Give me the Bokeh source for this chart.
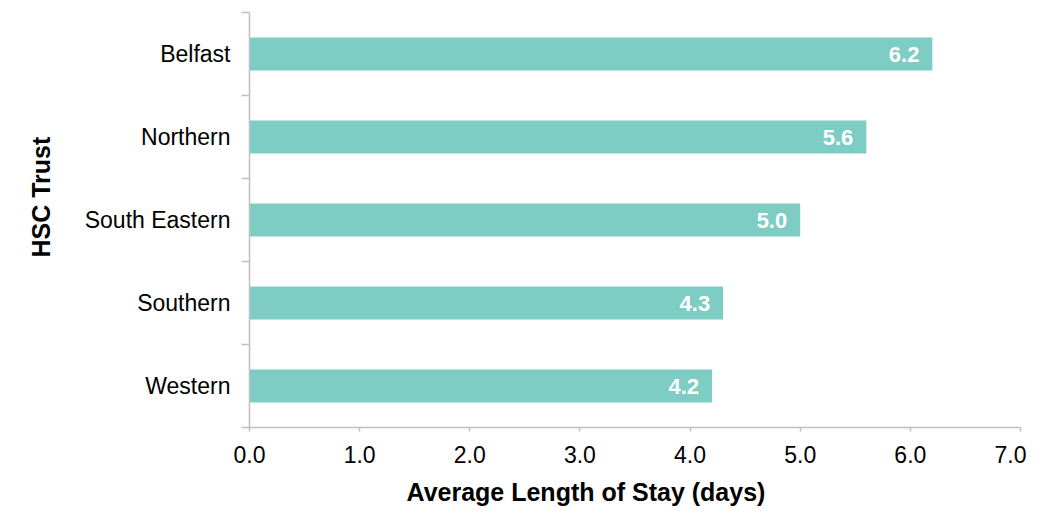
from bokeh.plotting import figure
from bokeh.models import (ColumnDataSource, FixedTicker, Range1d, Title,
                          CustomJSTickFormatter, NumeralTickFormatter)
from bokeh.embed import file_html
from bokeh.resources import INLINE
from bokeh.core.properties import value

# ---- data ----
trusts = ["Belfast", "Northern", "South Eastern", "Southern", "Western"]
avg_stay = [6.2, 5.6, 5.0, 4.3, 4.2]
x_ticks = [0, 1, 2, 3, 4, 5, 6, 7]
x_title = "Average Length of Stay (days)"
y_title = "HSC Trust"

n = len(trusts)
ypos = [n - i - 0.5 for i in range(n)]
labels = [f"{v:.1f}" for v in avg_stay]
src = ColumnDataSource(dict(y=ypos, v=avg_stay, lab=labels, name=trusts))

FONT = "Liberation Sans"
GRAY = "#bfbfbf"
BAR = "#7ecdc4"

p = figure(width=1026, height=515, output_backend="svg", toolbar_location=None,
           x_range=Range1d(0, 7), y_range=Range1d(0, n),
           min_border_left=249, min_border_right=6, min_border_top=12,
           min_border_bottom=87)
p.outline_line_color = None
p.grid.visible = False
p.background_fill_color = "white"

p.hbar(y="y", right="v", left=0, height=0.4, source=src,
       fill_color=BAR, line_color=None)
p.text(x="v", y="y", text="lab", source=src, x_offset=-13,
       text_align="right", text_baseline="middle", text_color="white",
       text_font=value(FONT), text_font_style="bold", text_font_size="22px")

# x axis
xa = p.xaxis[0]
xa.ticker = FixedTicker(ticks=x_ticks)
xa.formatter = NumeralTickFormatter(format="0.0")
xa.minor_tick_line_color = None
xa.major_tick_in = 0
xa.major_tick_out = 4
xa.axis_line_color = GRAY
xa.axis_line_width = 1.5
xa.major_tick_line_color = GRAY
xa.major_tick_line_width = 1.5
xa.major_label_text_font = FONT
xa.major_label_text_font_size = "23px"
xa.major_label_text_color = "#000000"
xa.major_label_standoff = 14

# y axis: labels at band centres, ticks at band boundaries
ya = p.yaxis[0]
ya.ticker = FixedTicker(ticks=ypos, minor_ticks=list(range(n + 1)))
ya.formatter = CustomJSTickFormatter(
    args=dict(names=trusts, n=n),
    code="return names[n - 1 - Math.floor(tick)];")
ya.major_tick_in = 0
ya.major_tick_out = 0
ya.minor_tick_in = 0
ya.minor_tick_out = 8
ya.minor_tick_line_color = GRAY
ya.minor_tick_line_width = 1.5
ya.axis_line_color = GRAY
ya.axis_line_width = 1.5
ya.major_label_text_font = FONT
ya.major_label_text_font_size = "23px"
ya.major_label_text_color = "#000000"
ya.major_label_standoff = 11

p.add_layout(Title(text=x_title, align="left", offset=157, standoff=20,
                   text_font=FONT, text_font_size="25px",
                   text_font_style="bold", text_color="#000000"), "below")
p.add_layout(Title(text=y_title, align="left", offset=170, standoff=50,
                   vertical_align="top",
                   text_font=FONT, text_font_size="25px",
                   text_font_style="bold", text_color="#000000"), "left")

open("out.html", "w").write(file_html(p, INLINE))
